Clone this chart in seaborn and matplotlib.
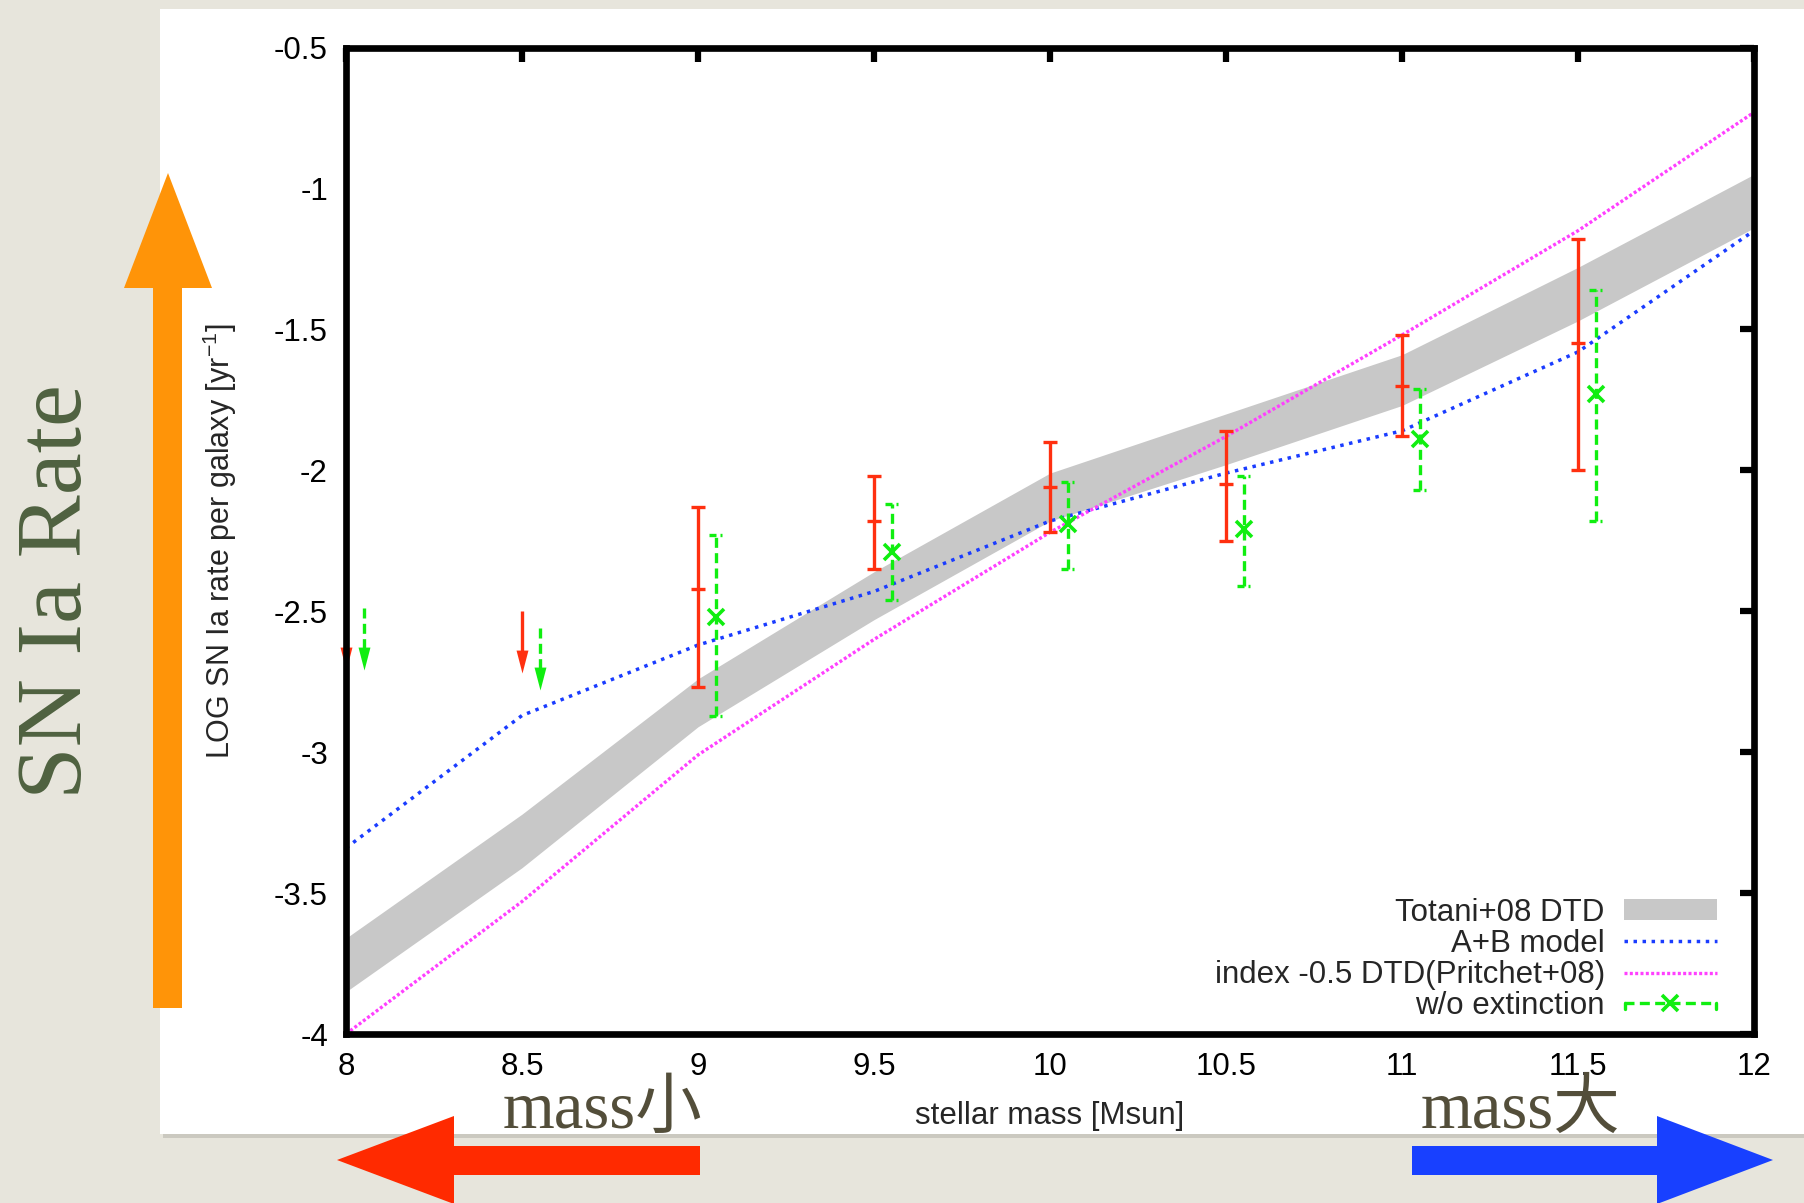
import numpy as np
import matplotlib
matplotlib.use("Agg")
import matplotlib.pyplot as plt
import seaborn as sns
from matplotlib.patches import Polygon, Rectangle, Patch
from matplotlib.lines import Line2D
from matplotlib.legend_handler import HandlerBase
from matplotlib.ticker import FuncFormatter

# ---------------- data ----------------
mass_grid = [8.0, 8.5, 9.0, 9.5, 10.0, 10.5, 11.0, 11.5, 12.0]
totani_hi = [-3.66, -3.22, -2.74, -2.36, -2.01, -1.80, -1.59, -1.28, -0.95]
totani_lo = [-3.85, -3.41, -2.91, -2.53, -2.18, -1.98, -1.77, -1.47, -1.14]
ab_model = [-3.34, -2.87, -2.62, -2.43, -2.18, -2.01, -1.86, -1.58, -1.15]
pritchet_model = [-4.00, -3.53, -3.01, -2.60, -2.22, -1.88, -1.52, -1.15, -0.73]

obs_mass = [9.0, 9.5, 10.0, 10.5, 11.0, 11.5]
obs_rate = [-2.42, -2.18, -2.06, -2.05, -1.70, -1.55]
obs_hi = [-2.13, -2.02, -1.90, -1.86, -1.52, -1.18]
obs_lo = [-2.77, -2.35, -2.22, -2.25, -1.88, -2.00]

noext_mass = [9.05, 9.55, 10.05, 10.55, 11.05, 11.55]
noext_rate = [-2.52, -2.29, -2.19, -2.21, -1.89, -1.73]
noext_hi = [-2.23, -2.12, -2.04, -2.02, -1.71, -1.36]
noext_lo = [-2.87, -2.46, -2.35, -2.41, -2.07, -2.18]

obs_limit_mass = [8.0, 8.5]
obs_limit = [-2.49, -2.50]
noext_limit_mass = [8.05, 8.55]
noext_limit = [-2.49, -2.56]

x_ticks = [8, 8.5, 9, 9.5, 10, 10.5, 11, 11.5, 12]
y_ticks = [-4, -3.5, -3, -2.5, -2, -1.5, -1, -0.5]

legend_labels = ["Totani+08 DTD", "A+B model",
                 "index -0.5 DTD(Pritchet+08)", "w/o extinction"]

# ---------------- style ----------------
sns.set_style("white")
plt.rcParams["font.family"] = ["Liberation Sans", "DejaVu Sans"]
plt.rcParams["mathtext.fontset"] = "custom"
plt.rcParams["mathtext.rm"] = "Liberation Sans"
plt.rcParams["mathtext.it"] = "Liberation Sans:italic"
plt.rcParams["axes.unicode_minus"] = False

FS = 22.5
RED = "#ff3010"
GREEN = "#10ee10"
BLUE = "#1a3cff"
MAGENTA = "#ff40ff"
BAND = "#c8c8c8"
SLIDE_BG = "#e7e5dc"

W, H = 1804, 1203
fig = plt.figure(figsize=(W / 100, H / 100), dpi=100, facecolor=SLIDE_BG)


def fx(px):
    return px / W


def fy(py):
    return 1 - py / H


# white card behind the plot, with a faint drop shadow
fig.add_artist(Rectangle((fx(163), fy(1138)), fx(1804 - 160), (1138 - 13) / H,
                         transform=fig.transFigure, facecolor="#b9b7ae",
                         edgecolor="none", alpha=0.6, zorder=-2))
fig.add_artist(Rectangle((fx(160), fy(1134)), fx(1804 - 160), (1134 - 9) / H,
                         transform=fig.transFigure, facecolor="white",
                         edgecolor="none", zorder=-1))

ax = fig.add_axes([fx(346), fy(1034), fx(1754 - 346), (1034 - 47.5) / H])
ax.set_facecolor("white")

# Totani+08 band
ax.fill_between(mass_grid, totani_lo, totani_hi, color=BAND, lw=0, zorder=1)

# model curves
BLUE_DOTS = (0, (1.0, 1.6))
MAG_DOTS = (0, (0.9, 0.7))
sns.lineplot(x=mass_grid, y=ab_model, ax=ax, color=BLUE, lw=2.5,
             linestyle=BLUE_DOTS, dash_capstyle="butt",
             estimator=None, sort=False, zorder=2)
sns.lineplot(x=mass_grid, y=pritchet_model, ax=ax, color=MAGENTA, lw=2.4,
             linestyle=MAG_DOTS, dash_capstyle="butt",
             estimator=None, sort=False, zorder=2)

# observed rates with extinction correction
o_rate = np.array(obs_rate)
ax.errorbar(obs_mass, obs_rate,
            yerr=[o_rate - np.array(obs_lo), np.array(obs_hi) - o_rate],
            fmt="_", ms=10, mew=2.4, color=RED, ecolor=RED, elinewidth=2.4,
            capsize=5, capthick=2.4, zorder=3)

# rates without extinction correction: dashed bars, half-drawn caps
n_rate = np.array(noext_rate)
eb = ax.errorbar(noext_mass, noext_rate,
                 yerr=[n_rate - np.array(noext_lo), np.array(noext_hi) - n_rate],
                 fmt="x", ms=11, mew=2.6, color=GREEN, ecolor=GREEN,
                 elinewidth=2.4, capsize=0, zorder=3)
eb[2][0].set_linestyle((0, (3.0, 1.6)))
cap_half = 0.018
nm = np.array(noext_mass)
for yy in (noext_hi, noext_lo):
    ax.hlines(yy, nm - cap_half, nm + cap_half, colors=GREEN, lw=2.4,
              linestyles=[(0, (2.1, 1.2))], zorder=3)

# upper limits drawn as downward arrows
arrow_len = 0.22
head_marker = [(-0.26, 1.0), (0.26, 1.0), (0.0, 0.0)]
for xs, ys, col, ls in ((obs_limit_mass, obs_limit, RED, "-"),
                        (noext_limit_mass, noext_limit, GREEN, (0, (3.0, 1.6)))):
    xs = np.array(xs)
    ys = np.array(ys)
    ax.vlines(xs, ys, ys - arrow_len + 0.06, colors=col, lw=2.4,
              linestyles=[ls], zorder=3, clip_on=False)
    ax.plot(xs, ys - arrow_len, linestyle="none", marker=head_marker, ms=33,
            mfc=col, mec=col, mew=0, zorder=3, clip_on=False)

# axes
ax.set_xlim(8, 12)
ax.set_ylim(-4, -0.5)
ax.set_xticks(x_ticks)
ax.set_yticks(y_ticks)
fmt = FuncFormatter(lambda v, p: f"{v:g}")
ax.xaxis.set_major_formatter(fmt)
ax.yaxis.set_major_formatter(fmt)
ax.tick_params(direction="in", length=10, width=4.5, top=True, right=True,
               labelsize=FS, pad=13, colors="black")
for sp in ax.spines.values():
    sp.set_linewidth(4.8)
    sp.set_color("black")
    sp.set_zorder(5)

ax.set_xlabel("stellar mass [Msun]", fontsize=FS)
ax.xaxis.set_label_coords(0.5, -0.068)
ax.set_ylabel(r"LOG SN Ia rate per galaxy [yr$^{-1}$]", fontsize=FS - 0.5)
ax.yaxis.set_label_coords(-0.076, 0.5)


# legend
class CappedDashHandler(HandlerBase):
    def create_artists(self, legend, orig_handle, xdescent, ydescent,
                       width, height, fontsize, trans):
        y = height / 2 - ydescent
        x0 = -xdescent
        x1 = x0 + width
        line = Line2D([x0, x1], [y, y], color=GREEN, lw=2.4,
                      linestyle=(0, (3.0, 1.6)))
        mark = Line2D([(x0 + x1) / 2], [y], marker="x", ms=11, mew=2.6,
                      color=GREEN, linestyle="none")
        c0 = Line2D([x0 + 1, x0 + 1], [y - 4, y], color=GREEN, lw=2.4)
        c1 = Line2D([x1 - 1, x1 - 1], [y - 4, y], color=GREEN, lw=2.4)
        arts = [line, mark, c0, c1]
        for a in arts:
            a.set_transform(trans)
        return arts


green_handle = Line2D([], [], color=GREEN)
handles = [Patch(facecolor=BAND, edgecolor="none"),
           Line2D([], [], color=BLUE, lw=2.5, linestyle=BLUE_DOTS),
           Line2D([], [], color=MAGENTA, lw=2.4, linestyle=MAG_DOTS),
           green_handle]
ax.legend(handles, legend_labels, loc="lower right",
          bbox_to_anchor=(0.985, -0.003), frameon=False, fontsize=FS,
          markerfirst=False, handlelength=3.0, handleheight=0.62,
          handletextpad=0.6, labelspacing=0.04, borderpad=0,
          handler_map={green_handle: CappedDashHandler()})

# slide decorations: direction arrows and captions
orange = [(168, 173), (212, 288), (182, 288), (182, 1008), (153, 1008),
          (153, 288), (124, 288)]
red_arrow = [(337, 1160), (454, 1116), (454, 1146), (700, 1146), (700, 1175),
             (454, 1175), (454, 1204)]
blue_arrow = [(1773, 1160), (1657, 1116), (1657, 1146), (1412, 1146),
              (1412, 1175), (1657, 1175), (1657, 1204)]
for pts, col in ((orange, "#ff9408"), (red_arrow, "#ff2a00"),
                 (blue_arrow, "#1840ff")):
    fig.add_artist(Polygon([(fx(a), fy(b)) for a, b in pts], closed=True,
                           transform=fig.transFigure, facecolor=col,
                           edgecolor="none", zorder=10))

fig.text(fx(81), fy(592), "SN Ia Rate", rotation=90, rotation_mode="anchor",
         ha="center", va="baseline", fontsize=68, color="#4f6140",
         family=["Liberation Serif", "DejaVu Serif"])
serif_cjk = ["Liberation Serif", "Noto Sans CJK JP", "DejaVu Serif"]
fig.text(fx(503), fy(1128), "mass小", ha="left", va="baseline", fontsize=48,
         color="#534e3a", family=serif_cjk, zorder=11)
fig.text(fx(1421), fy(1128), "mass大", ha="left", va="baseline", fontsize=48,
         color="#534e3a", family=serif_cjk, zorder=11)

fig.savefig("out.png", dpi=100, facecolor=SLIDE_BG)
